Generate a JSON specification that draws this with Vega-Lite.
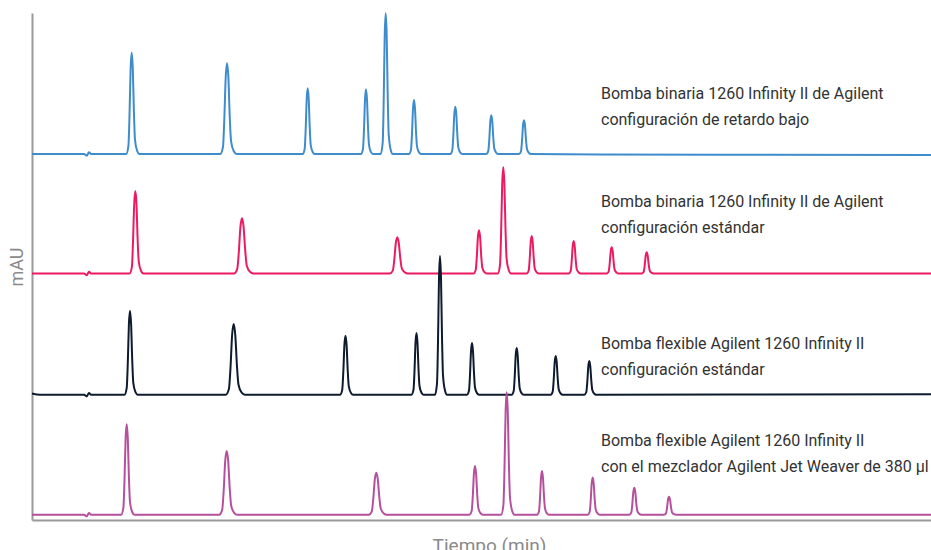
{
"$schema": "https://vega.github.io/schema/vega-lite/v6.json",
"width": 899, "height": 507,
"autosize": {"type": "none"},
"padding": {"left": 32, "top": 13, "right": 0, "bottom": 30},
"background": "white",
"config": {"view": {"stroke": null}, "font": "Roboto",
 "axis": {"domainColor": "#9a9a9a", "domainWidth": 2, "ticks": false, "labels": false, "grid": false, "titleFont": "Roboto", "titleFontWeight": "normal", "titleColor": "#8a8a8a", "titleFontSize": 18}},
"datasets": {
"traces": [
{"s":"A","t":32,"v":366},{"s":"A","t":84,"v":366},{"s":"A","t":86.7,"v":364.3},{"s":"A","t":89,"v":367.7},{"s":"A","t":91,"v":366},
{"s":"A","t":126.2,"v":366},{"s":"A","t":128.4,"v":374.1},{"s":"A","t":129.5,"v":404.5},{"s":"A","t":130.6,"v":451.1},{"s":"A","t":131.7,"v":467.3},{"s":"A","t":132.8,"v":451.1},{"s":"A","t":133.9,"v":408.5},{"s":"A","t":135.0,"v":380.2},{"s":"A","t":137.2,"v":369.0},{"s":"A","t":139.4,"v":366},
{"s":"A","t":220.3,"v":366},{"s":"A","t":223.0,"v":373.3},{"s":"A","t":224.3,"v":400.5},{"s":"A","t":225.7,"v":442.2},{"s":"A","t":227,"v":456.7},{"s":"A","t":228.4,"v":442.2},{"s":"A","t":229.7,"v":404.1},{"s":"A","t":231.1,"v":378.7},{"s":"A","t":233.8,"v":368.7},{"s":"A","t":236.5,"v":366},
{"s":"A","t":302.7,"v":366},{"s":"A","t":304.7,"v":371.3},{"s":"A","t":305.7,"v":391.0},{"s":"A","t":306.7,"v":421.2},{"s":"A","t":307.7,"v":431.7},{"s":"A","t":308.7,"v":421.2},{"s":"A","t":309.7,"v":393.6},{"s":"A","t":310.7,"v":375.2},{"s":"A","t":312.7,"v":368.0},{"s":"A","t":314.7,"v":366},
{"s":"A","t":361,"v":366},{"s":"A","t":363,"v":371.2},{"s":"A","t":364,"v":390.6},{"s":"A","t":365,"v":420.3},{"s":"A","t":366,"v":430.7},{"s":"A","t":367,"v":420.3},{"s":"A","t":368,"v":393.2},{"s":"A","t":369,"v":375.1},{"s":"A","t":371,"v":367.9},{"s":"A","t":373,"v":366},
{"s":"A","t":380.7,"v":366},{"s":"A","t":382.7,"v":377.3},{"s":"A","t":383.7,"v":419.5},{"s":"A","t":384.7,"v":484.2},{"s":"A","t":385.7,"v":506.7},{"s":"A","t":386.7,"v":484.2},{"s":"A","t":387.7,"v":425.1},{"s":"A","t":388.7,"v":385.7},{"s":"A","t":390.7,"v":370.2},{"s":"A","t":392.7,"v":366},
{"s":"A","t":409,"v":366},{"s":"A","t":411,"v":370.3},{"s":"A","t":412,"v":386.5},{"s":"A","t":413,"v":411.4},{"s":"A","t":414,"v":420},{"s":"A","t":415,"v":411.4},{"s":"A","t":416,"v":388.7},{"s":"A","t":417,"v":373.6},{"s":"A","t":419,"v":367.6},{"s":"A","t":421,"v":366},
{"s":"A","t":450.3,"v":366},{"s":"A","t":452.3,"v":369.8},{"s":"A","t":453.3,"v":384.0},{"s":"A","t":454.3,"v":405.7},{"s":"A","t":455.3,"v":413.3},{"s":"A","t":456.3,"v":405.7},{"s":"A","t":457.3,"v":385.9},{"s":"A","t":458.3,"v":372.6},{"s":"A","t":460.3,"v":367.4},{"s":"A","t":462.3,"v":366},
{"s":"A","t":486.3,"v":366},{"s":"A","t":488.3,"v":369.1},{"s":"A","t":489.3,"v":380.7},{"s":"A","t":490.3,"v":398.5},{"s":"A","t":491.3,"v":404.7},{"s":"A","t":492.3,"v":398.5},{"s":"A","t":493.3,"v":382.3},{"s":"A","t":494.3,"v":371.4},{"s":"A","t":496.3,"v":367.2},{"s":"A","t":498.3,"v":366},
{"s":"A","t":519,"v":366},{"s":"A","t":521,"v":368.7},{"s":"A","t":522,"v":378.8},{"s":"A","t":523,"v":394.3},{"s":"A","t":524,"v":399.7},{"s":"A","t":525,"v":394.3},{"s":"A","t":526,"v":380.2},{"s":"A","t":527,"v":370.7},{"s":"A","t":529,"v":367.0},{"s":"A","t":531,"v":366},
{"s":"A","t":600,"v":365.5},{"s":"A","t":931,"v":365},

{"s":"B","t":32,"v":246.5},{"s":"B","t":84,"v":246.5},{"s":"B","t":86.7,"v":244.8},{"s":"B","t":89,"v":248.2},{"s":"B","t":91,"v":246.5},
{"s":"B","t":129.6,"v":246.5},{"s":"B","t":131.9,"v":253.1},{"s":"B","t":133.0,"v":277.9},{"s":"B","t":134.2,"v":315.8},{"s":"B","t":135.3,"v":329.0},{"s":"B","t":136.5,"v":315.8},{"s":"B","t":137.6,"v":281.2},{"s":"B","t":138.8,"v":258.1},{"s":"B","t":141.1,"v":249.0},{"s":"B","t":143.4,"v":246.5},
{"s":"B","t":234,"v":246.5},{"s":"B","t":237.2,"v":250.9},{"s":"B","t":238.8,"v":267.5},{"s":"B","t":240.4,"v":292.9},{"s":"B","t":242,"v":301.7},{"s":"B","t":243.6,"v":292.9},{"s":"B","t":245.2,"v":269.7},{"s":"B","t":246.8,"v":254.2},{"s":"B","t":250,"v":248.2},{"s":"B","t":253.2,"v":246.5},
{"s":"B","t":389.8,"v":246.5},{"s":"B","t":392.8,"v":249.4},{"s":"B","t":394.3,"v":260.3},{"s":"B","t":395.8,"v":276.9},{"s":"B","t":397.3,"v":282.7},{"s":"B","t":398.8,"v":276.9},{"s":"B","t":400.3,"v":261.7},{"s":"B","t":401.8,"v":251.6},{"s":"B","t":404.8,"v":247.6},{"s":"B","t":407.8,"v":246.5},
{"s":"B","t":473.5,"v":246.5},{"s":"B","t":475.7,"v":250.0},{"s":"B","t":476.8,"v":262.9},{"s":"B","t":477.9,"v":282.8},{"s":"B","t":479,"v":289.7},{"s":"B","t":480.1,"v":282.8},{"s":"B","t":481.2,"v":264.6},{"s":"B","t":482.3,"v":252.5},{"s":"B","t":484.5,"v":247.8},{"s":"B","t":486.7,"v":246.5},
{"s":"B","t":497.8,"v":246.5},{"s":"B","t":500.0,"v":255.0},{"s":"B","t":501.1,"v":286.9},{"s":"B","t":502.2,"v":335.7},{"s":"B","t":503.3,"v":352.7},{"s":"B","t":504.4,"v":335.7},{"s":"B","t":505.5,"v":291.1},{"s":"B","t":506.6,"v":261.4},{"s":"B","t":508.8,"v":249.7},{"s":"B","t":511.0,"v":246.5},
{"s":"B","t":526.7,"v":246.5},{"s":"B","t":528.7,"v":249.5},{"s":"B","t":529.7,"v":260.8},{"s":"B","t":530.7,"v":278.0},{"s":"B","t":531.7,"v":284.0},{"s":"B","t":532.7,"v":278.0},{"s":"B","t":533.7,"v":262.3},{"s":"B","t":534.7,"v":251.8},{"s":"B","t":536.7,"v":247.6},{"s":"B","t":538.7,"v":246.5},
{"s":"B","t":568.7,"v":246.5},{"s":"B","t":570.7,"v":249.1},{"s":"B","t":571.7,"v":258.9},{"s":"B","t":572.7,"v":273.8},{"s":"B","t":573.7,"v":279.0},{"s":"B","t":574.7,"v":273.8},{"s":"B","t":575.7,"v":260.2},{"s":"B","t":576.7,"v":251.1},{"s":"B","t":578.7,"v":247.5},{"s":"B","t":580.7,"v":246.5},
{"s":"B","t":606.7,"v":246.5},{"s":"B","t":608.7,"v":248.6},{"s":"B","t":609.7,"v":256.5},{"s":"B","t":610.7,"v":268.5},{"s":"B","t":611.7,"v":272.7},{"s":"B","t":612.7,"v":268.5},{"s":"B","t":613.7,"v":257.5},{"s":"B","t":614.7,"v":250.2},{"s":"B","t":616.7,"v":247.3},{"s":"B","t":618.7,"v":246.5},
{"s":"B","t":641.7,"v":246.5},{"s":"B","t":643.7,"v":248.2},{"s":"B","t":644.7,"v":254.6},{"s":"B","t":645.7,"v":264.3},{"s":"B","t":646.7,"v":267.7},{"s":"B","t":647.7,"v":264.3},{"s":"B","t":648.7,"v":255.4},{"s":"B","t":649.7,"v":249.5},{"s":"B","t":651.7,"v":247.1},{"s":"B","t":653.7,"v":246.5},
{"s":"B","t":931,"v":246.5},

{"s":"C","t":32,"v":126.5},{"s":"C","t":40,"v":125.3},{"s":"C","t":84,"v":125.3},{"s":"C","t":86.7,"v":123.6},{"s":"C","t":89,"v":127.0},{"s":"C","t":91,"v":125.3},
{"s":"C","t":124.5,"v":125.3},{"s":"C","t":126.7,"v":132.0},{"s":"C","t":127.8,"v":157.2},{"s":"C","t":128.9,"v":195.9},{"s":"C","t":130,"v":209.3},{"s":"C","t":131.1,"v":195.9},{"s":"C","t":132.2,"v":160.6},{"s":"C","t":133.3,"v":137.1},{"s":"C","t":135.5,"v":127.8},{"s":"C","t":137.7,"v":125.3},
{"s":"C","t":225.7,"v":125.3},{"s":"C","t":228.9,"v":131.0},{"s":"C","t":230.5,"v":152.2},{"s":"C","t":232.1,"v":184.7},{"s":"C","t":233.7,"v":196.0},{"s":"C","t":235.3,"v":184.7},{"s":"C","t":236.9,"v":155.0},{"s":"C","t":238.5,"v":135.2},{"s":"C","t":241.7,"v":127.4},{"s":"C","t":244.9,"v":125.3},
{"s":"C","t":340.0,"v":125.3},{"s":"C","t":342.2,"v":130.0},{"s":"C","t":343.3,"v":147.7},{"s":"C","t":344.4,"v":174.9},{"s":"C","t":345.5,"v":184.3},{"s":"C","t":346.6,"v":174.9},{"s":"C","t":347.7,"v":150.1},{"s":"C","t":348.8,"v":133.6},{"s":"C","t":351.0,"v":127.1},{"s":"C","t":353.2,"v":125.3},
{"s":"C","t":411.5,"v":125.3},{"s":"C","t":413.5,"v":130.2},{"s":"C","t":414.5,"v":148.7},{"s":"C","t":415.5,"v":177.1},{"s":"C","t":416.5,"v":187.0},{"s":"C","t":417.5,"v":177.1},{"s":"C","t":418.5,"v":151.2},{"s":"C","t":419.5,"v":134.0},{"s":"C","t":421.5,"v":127.2},{"s":"C","t":423.5,"v":125.3},
{"s":"C","t":435,"v":125.3},{"s":"C","t":437,"v":136.4},{"s":"C","t":438,"v":178.0},{"s":"C","t":439,"v":241.8},{"s":"C","t":440,"v":264.0},{"s":"C","t":441,"v":241.8},{"s":"C","t":442,"v":183.6},{"s":"C","t":443,"v":144.7},{"s":"C","t":445,"v":129.5},{"s":"C","t":447,"v":125.3},
{"s":"C","t":467,"v":125.3},{"s":"C","t":469,"v":129.4},{"s":"C","t":470,"v":145.0},{"s":"C","t":471,"v":168.7},{"s":"C","t":472,"v":177.0},{"s":"C","t":473,"v":168.7},{"s":"C","t":474,"v":147.0},{"s":"C","t":475,"v":132.5},{"s":"C","t":477,"v":126.9},{"s":"C","t":479,"v":125.3},
{"s":"C","t":511.7,"v":125.3},{"s":"C","t":513.7,"v":129.0},{"s":"C","t":514.7,"v":143.0},{"s":"C","t":515.7,"v":164.5},{"s":"C","t":516.7,"v":172.0},{"s":"C","t":517.7,"v":164.5},{"s":"C","t":518.7,"v":144.9},{"s":"C","t":519.7,"v":131.8},{"s":"C","t":521.7,"v":126.7},{"s":"C","t":523.7,"v":125.3},
{"s":"C","t":550.7,"v":125.3},{"s":"C","t":552.7,"v":128.4},{"s":"C","t":553.7,"v":140.0},{"s":"C","t":554.7,"v":157.8},{"s":"C","t":555.7,"v":164.0},{"s":"C","t":556.7,"v":157.8},{"s":"C","t":557.7,"v":141.6},{"s":"C","t":558.7,"v":130.7},{"s":"C","t":560.7,"v":126.5},{"s":"C","t":562.7,"v":125.3},
{"s":"C","t":584.3,"v":125.3},{"s":"C","t":586.3,"v":128.0},{"s":"C","t":587.3,"v":138.1},{"s":"C","t":588.3,"v":153.6},{"s":"C","t":589.3,"v":159.0},{"s":"C","t":590.3,"v":153.6},{"s":"C","t":591.3,"v":139.5},{"s":"C","t":592.3,"v":130.0},{"s":"C","t":594.3,"v":126.3},{"s":"C","t":596.3,"v":125.3},
{"s":"C","t":931,"v":125.8},

{"s":"D","t":32,"v":5.3},{"s":"D","t":84,"v":5.3},{"s":"D","t":86.7,"v":3.6},{"s":"D","t":89,"v":7.0},{"s":"D","t":91,"v":5.3},
{"s":"D","t":121.2,"v":5.3},{"s":"D","t":123.4,"v":12.5},{"s":"D","t":124.5,"v":39.7},{"s":"D","t":125.6,"v":81.2},{"s":"D","t":126.7,"v":95.7},{"s":"D","t":127.8,"v":81.2},{"s":"D","t":128.9,"v":43.3},{"s":"D","t":130.0,"v":18.0},{"s":"D","t":132.2,"v":8.0},{"s":"D","t":134.4,"v":5.3},
{"s":"D","t":219.2,"v":5.3},{"s":"D","t":222.2,"v":10.4},{"s":"D","t":223.7,"v":29.5},{"s":"D","t":225.2,"v":58.8},{"s":"D","t":226.7,"v":69.0},{"s":"D","t":228.2,"v":58.8},{"s":"D","t":229.7,"v":32.1},{"s":"D","t":231.2,"v":14.2},{"s":"D","t":234.2,"v":7.2},{"s":"D","t":237.2,"v":5.3},
{"s":"D","t":368.8,"v":5.3},{"s":"D","t":371.8,"v":8.7},{"s":"D","t":373.3,"v":21.3},{"s":"D","t":374.8,"v":40.6},{"s":"D","t":376.3,"v":47.3},{"s":"D","t":377.8,"v":40.6},{"s":"D","t":379.3,"v":23.0},{"s":"D","t":380.8,"v":11.2},{"s":"D","t":383.8,"v":6.6},{"s":"D","t":386.8,"v":5.3},
{"s":"D","t":469.5,"v":5.3},{"s":"D","t":471.7,"v":9.2},{"s":"D","t":472.8,"v":23.8},{"s":"D","t":473.9,"v":46.2},{"s":"D","t":475,"v":54.0},{"s":"D","t":476.1,"v":46.2},{"s":"D","t":477.2,"v":25.8},{"s":"D","t":478.3,"v":12.1},{"s":"D","t":480.5,"v":6.8},{"s":"D","t":482.7,"v":5.3},
{"s":"D","t":501.2,"v":5.3},{"s":"D","t":503.4,"v":15.1},{"s":"D","t":504.5,"v":51.8},{"s":"D","t":505.6,"v":108.1},{"s":"D","t":506.7,"v":127.7},{"s":"D","t":507.8,"v":108.1},{"s":"D","t":508.9,"v":56.7},{"s":"D","t":510.0,"v":22.4},{"s":"D","t":512.2,"v":9.0},{"s":"D","t":514.4,"v":5.3},
{"s":"D","t":537,"v":5.3},{"s":"D","t":539,"v":8.8},{"s":"D","t":540,"v":21.9},{"s":"D","t":541,"v":42.0},{"s":"D","t":542,"v":49.0},{"s":"D","t":543,"v":42.0},{"s":"D","t":544,"v":23.7},{"s":"D","t":545,"v":11.4},{"s":"D","t":547,"v":6.6},{"s":"D","t":549,"v":5.3},
{"s":"D","t":587.7,"v":5.3},{"s":"D","t":589.7,"v":8.3},{"s":"D","t":590.7,"v":19.4},{"s":"D","t":591.7,"v":36.5},{"s":"D","t":592.7,"v":42.5},{"s":"D","t":593.7,"v":36.5},{"s":"D","t":594.7,"v":20.9},{"s":"D","t":595.7,"v":10.5},{"s":"D","t":597.7,"v":6.4},{"s":"D","t":599.7,"v":5.3},
{"s":"D","t":629.3,"v":5.3},{"s":"D","t":631.3,"v":7.5},{"s":"D","t":632.3,"v":15.6},{"s":"D","t":633.3,"v":28.0},{"s":"D","t":634.3,"v":32.3},{"s":"D","t":635.3,"v":28.0},{"s":"D","t":636.3,"v":16.6},{"s":"D","t":637.3,"v":9.1},{"s":"D","t":639.3,"v":6.1},{"s":"D","t":641.3,"v":5.3},
{"s":"D","t":664,"v":5.3},{"s":"D","t":666,"v":6.7},{"s":"D","t":667,"v":12.1},{"s":"D","t":668,"v":20.4},{"s":"D","t":669,"v":23.3},{"s":"D","t":670,"v":20.4},{"s":"D","t":671,"v":12.9},{"s":"D","t":672,"v":7.8},{"s":"D","t":674,"v":5.8},{"s":"D","t":676,"v":5.3},
{"s":"D","t":931,"v":5.3}
],
"labels": [
{"t":601,"v":426,"text":"Bomba binaria 1260 Infinity II de Agilent"},
{"t":601,"v":400,"text":"configuración de retardo bajo"},
{"t":601,"v":318,"text":"Bomba binaria 1260 Infinity II de Agilent"},
{"t":601,"v":292,"text":"configuración estándar"},
{"t":601,"v":176,"text":"Bomba flexible Agilent 1260 Infinity II"},
{"t":601,"v":150,"text":"configuración estándar"},
{"t":601,"v":79,"text":"Bomba flexible Agilent 1260 Infinity II"},
{"t":601,"v":53,"text":"con el mezclador Agilent Jet Weaver de 380 µl"}
]
},
"encoding": {
 "x": {"field": "t", "type": "quantitative", "scale": {"domain": [32, 931], "nice": false, "zero": false},
   "axis": {"title": "Tiempo (min)", "titlePadding": 16, "titleFontSize": 19, "titleX": 457, "titleAnchor": "middle"}},
 "y": {"field": "v", "type": "quantitative", "scale": {"domain": [0, 507], "nice": false},
   "axis": {"title": "mAU", "titlePadding": 6}}
},
"layer": [
 {"data": {"name": "traces"},
  "mark": {"type": "line", "interpolate": "monotone", "strokeWidth": 2, "clip": false},
  "encoding": {"color": {"field": "s", "type": "nominal", "legend": null,
     "scale": {"domain": ["A", "B", "C", "D"], "range": ["#3f8ccd", "#ec1a63", "#0e1b2e", "#b5509c"]}}}},
 {"data": {"name": "labels"},
  "mark": {"type": "text", "align": "left", "baseline": "middle", "font": "Roboto", "fontSize": 16, "color": "#333333"},
  "encoding": {"text": {"field": "text", "type": "nominal"}}}
]
}
